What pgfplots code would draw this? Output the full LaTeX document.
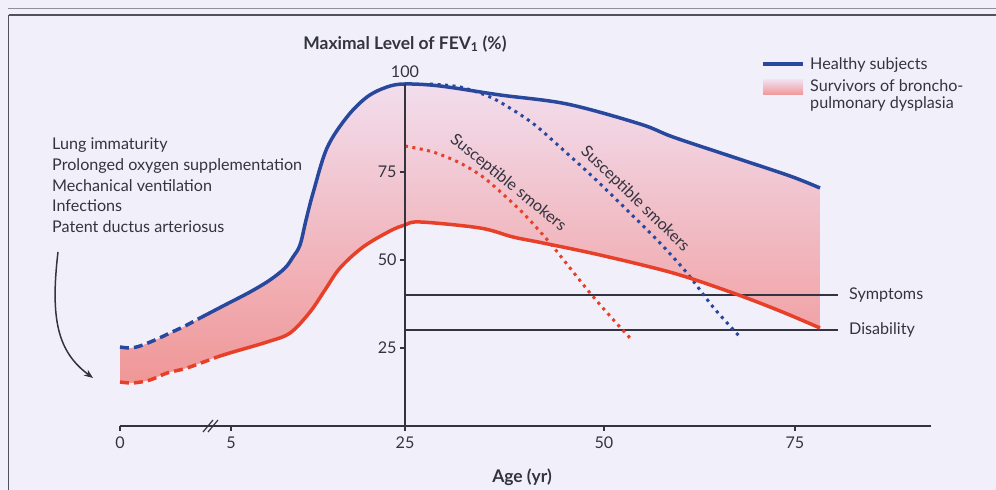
\documentclass[border=0pt]{standalone}
\usepackage{fontspec}
\setmainfont{Lato}
\usepackage{xcolor}
\usepackage{pgfplots}
\usepackage{pgfplotstable}
\pgfplotsset{compat=1.18}
\usepgfplotslibrary{fillbetween}
\usetikzlibrary{arrows.meta}

\definecolor{healthy}{RGB}{40,72,158}
\definecolor{bpd}{RGB}{232,64,40}
\definecolor{bg}{RGB}{241,240,250}
\definecolor{ink}{RGB}{52,52,64}
\definecolor{fillTop}{RGB}{242,222,238}
\definecolor{fillBot}{RGB}{240,150,150}

% x is the drawn age scale (the axis is broken between 5 and 25 yr)
\pgfplotstableread{
u v
-11.54 25.28
-10.26 25.00
-8.97 25.57
-7.05 27.27
-5.13 29.26
-3.21 31.25
-1.28 33.52
1.92 37.22
5.13 40.91
7.69 44.32
9.62 47.73
10.64 50.85
11.54 54.26
12.31 61.36
13.21 69.03
15.00 81.82
17.56 90.63
20.13 96.31
22.69 99.15
25.00 100.00
29.49 99.43
37.18 96.88
45.77 94.32
55.13 88.64
59.36 84.94
67.05 79.26
74.36 73.86
78.21 70.45
}\healthytab

\pgfplotstableread{
u v
-11.54 15.34
-9.87 15.06
-7.69 15.91
-5.51 17.90
-2.95 19.32
0.90 22.44
2.95 23.86
7.31 26.70
10.26 29.26
12.82 35.23
14.74 41.48
16.67 47.73
19.62 53.69
23.08 58.24
25.00 59.94
26.92 60.80
34.62 59.09
38.85 56.53
42.69 54.83
50.00 51.42
59.36 46.31
67.05 40.63
73.08 35.51
78.21 30.68
}\bpdtab

\pgfplotstableread{
u v
25.00 82.39
28.59 80.68
32.05 77.56
35.00 73.58
37.82 68.18
40.38 62.78
43.59 54.83
46.15 47.73
48.72 40.63
51.28 34.09
53.85 27.84
}\bpdsmoke

\pgfplotstableread{
u v
28.21 100.00
32.05 99.15
35.90 96.31
38.85 92.61
41.67 88.35
44.87 82.10
49.10 73.58
53.46 64.20
57.69 54.83
61.15 46.31
64.49 36.65
67.95 28.13
}\healthysmoke

\newcommand{\fs}{\fontsize{16.2}{19}\selectfont}
\newcommand{\fb}{\fontsize{17.5}{20}\selectfont\bfseries}
\pagecolor{bg}

\begin{document}
\begin{tikzpicture}[x=1bp,y=1bp]
\path (0,0) rectangle (996,490);
\draw[ink!55, line width=0.8bp] (8,482) -- (996,482);
\draw[ink!85, line width=1.8bp] (8.5,475) -- (996,475);
\draw[ink!85, line width=1.8bp] (8.5,475) -- (8.5,0);

\begin{axis}[
  at={(120bp,64bp)}, anchor=south west,
  width=811bp, height=342bp, scale only axis,
  xmin=-11.54, xmax=92.44, ymin=2.84, ymax=100,
  axis x line*=bottom, axis y line=none,
  axis line style={ink, line width=1.4bp},
  xtick={-11.54,2.69,25,50.5,75}, xticklabels={0,5,25,50,75},
  tick align=outside, major tick length=5bp,
  tick style={ink, line width=1.4bp},
  tick label style={font=\fs, text=ink},
  xticklabel style={yshift=-2bp},
  xlabel={Age (yr)},
  xlabel style={at={(axis description cs:0.4957,-0.149)}, anchor=center, font=\fb, text=ink},
  clip=false,
]
% shaded band between the two curves: gradient, then masked outside the band
\shade[top color=fillTop, bottom color=fillBot] (axis cs:-11.50,14.5) rectangle (axis cs:78.17,100.6);
\addplot[name path=healthy, draw=none, smooth, tension=0.55] table {\healthytab};
\addplot[name path=bpd, draw=none, smooth, tension=0.55] table {\bpdtab};
\addplot[name path=topline, draw=none] coordinates {(-11.54,100.8) (78.21,100.8)};
\addplot[name path=botline, draw=none] coordinates {(-11.54,14.2) (78.21,14.2)};
\addplot[fill=bg, draw=none] fill between[of=healthy and topline, on layer=main];
\addplot[fill=bg, draw=none] fill between[of=bpd and botline, on layer=main];

% symptom and disability thresholds
\addplot[ink, line width=2bp] coordinates {(25,40) (80.5,40)};
\addplot[ink, line width=2bp] coordinates {(25,30) (80.5,30)};
\node[anchor=west, inner sep=0pt, font=\fs, text=ink] at (axis cs:81.92,40) {Symptoms};
\node[anchor=west, inner sep=0pt, font=\fs, text=ink] at (axis cs:81.92,30) {Disability};

% smokers
\addplot[bpd, line width=3bp, dash pattern=on 3bp off 4.5bp, smooth] table {\bpdsmoke};
\addplot[healthy, line width=3bp, dash pattern=on 3bp off 4.5bp, smooth] table {\healthysmoke};

% curves: dashed in early childhood, solid after
\addplot[bpd, line width=3.5bp, dash pattern=on 9bp off 5bp, smooth, tension=0.55,
  restrict x to domain=-12:0.9] table {\bpdtab};
\addplot[bpd, line width=3.5bp, smooth, tension=0.55,
  restrict x to domain=0.9:80] table {\bpdtab};
\addplot[healthy, line width=3.5bp, dash pattern=on 9bp off 5bp, smooth, tension=0.55,
  restrict x to domain=-12:-1.28] table {\healthytab};
\addplot[healthy, line width=3.5bp, smooth, tension=0.55,
  restrict x to domain=-1.28:80] table {\healthytab};

\node[rotate=-39, font=\fs, text=ink] at (axis cs:38.21,71.88) {Susceptible smokers};
\node[rotate=-44, font=\fs, text=ink] at (axis cs:54.49,67.33) {Susceptible smokers};

% axis break
\draw[ink, line width=1.2bp] ([xshift=-7bp,yshift=-6bp]axis cs:0,2.84) -- ++(10bp,12bp);
\draw[ink, line width=1.2bp] ([xshift=-2bp,yshift=-6bp]axis cs:0,2.84) -- ++(10bp,12bp);
\end{axis}

\begin{axis}[
  at={(405bp,64bp)}, anchor=south west,
  width=10bp, height=342bp, scale only axis,
  xmin=25, xmax=26, ymin=2.84, ymax=100,
  axis y line*=left, axis x line=none,
  axis line style={ink, line width=1.4bp},
  ytick={25,50,75}, yticklabels={25,50,75},
  tick align=outside, major tick length=5bp,
  tick style={ink, line width=1.4bp},
  tick label style={font=\fs, text=ink},
  title={Maximal Level of FEV\textsubscript{1} (\%)},
  title style={at={(axis description cs:0,1)}, anchor=base, yshift=29bp, font=\fb, text=ink},
  clip=false,
]
\addplot[draw=none] coordinates {(25,2.84) (26,100)};
\node[anchor=base, font=\fs, text=ink, yshift=6bp] at (axis cs:25,100) {100};
\end{axis}

% legend
\draw[healthy, line width=4bp] (763,426.3) -- (803,426.3);
\node[anchor=base west, inner sep=0pt, font=\fs, text=ink] at (810,420) {Healthy subjects};
\shade[top color=fillTop, bottom color=fillBot] (763,395) rectangle (803,410);
\node[anchor=base west, inner sep=0pt, font=\fs, text=ink] at (810,398) {Survivors of broncho-};
\node[anchor=base west, inner sep=0pt, font=\fs, text=ink] at (810,381) {pulmonary dysplasia};

% causes
\node[anchor=base west, inner sep=0pt, font=\fs, text=ink] at (52,340) {Lung immaturity};
\node[anchor=base west, inner sep=0pt, font=\fs, text=ink] at (52,319) {Prolonged oxygen supplementation};
\node[anchor=base west, inner sep=0pt, font=\fs, text=ink] at (52,298) {Mechanical ventilation};
\node[anchor=base west, inner sep=0pt, font=\fs, text=ink] at (52,278) {Infections};
\node[anchor=base west, inner sep=0pt, font=\fs, text=ink] at (52,257) {Patent ductus arteriosus};
\draw[ink, line width=1.5bp, -{Stealth[length=9bp,width=7bp]}] (58,238) .. controls (50,170) and (58,138) .. (93,112);
\pgfresetboundingbox
\useasboundingbox (0,0) rectangle (996,490);
\end{tikzpicture}
\end{document}
